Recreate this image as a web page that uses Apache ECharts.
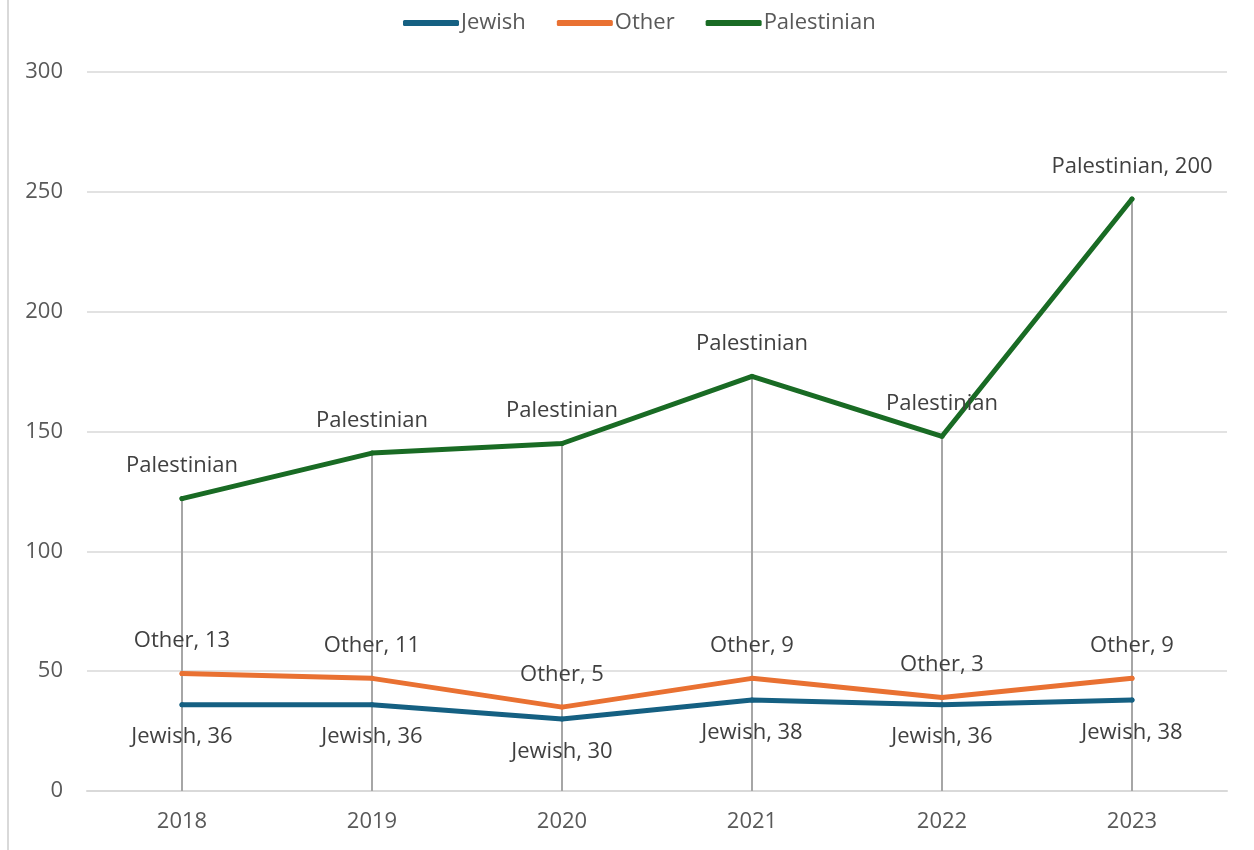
<!DOCTYPE html>
<html>
<head>
<meta charset="utf-8">
<script src="https://cdn.jsdelivr.net/npm/echarts@6/dist/echarts.min.js"></script>
<style>
html,body{margin:0;padding:0;background:#fff;}
#chart{width:1254px;height:850px;}
</style>
</head>
<body>
<div id="chart"></div>
<script>
const years = ['2018', '2019', '2020', '2021', '2022', '2023'];
const jewish = [36, 36, 30, 38, 36, 38];
const other = [13, 11, 5, 9, 3, 9];
const palestinian = [73, 94, 110, 126, 109, 200];
const yTicks = [0, 50, 100, 150, 200, 250, 300];

const totals = years.map((y, i) => jewish[i] + other[i] + palestinian[i]);
const font = 'Open Sans, Lato, sans-serif';

const chart = echarts.init(document.getElementById('chart'));

function lbl(name, pos, showValueFn) {
  return {
    show: true,
    position: pos,
    distance: 19,
    fontFamily: font,
    fontSize: 22,
    color: '#404040',
    formatter: p => showValueFn(p) ? name + ', ' + p.value : name
  };
}

const colors = { Jewish: '#156082', Other: '#E97132', Palestinian: '#196B24' };

chart.setOption({
  animation: false,
  graphic: [{
    type: 'rect',
    shape: { x: 7, y: 0, width: 2, height: 850 },
    style: { fill: '#d9d9d9' },
    silent: true
  }],
  legend: {
    top: 7,
    left: 398,
    itemWidth: 56,
    itemHeight: 6,
    itemGap: 31,
    icon: 'roundRect',
    textStyle: { fontFamily: font, fontSize: 22, color: '#595959', padding: [0, 0, 0, -3] },
    data: ['Jewish', 'Other', 'Palestinian']
  },
  grid: { left: 87, right: 27, top: 72, bottom: 59 },
  xAxis: {
    type: 'category',
    data: years,
    boundaryGap: true,
    axisLine: { lineStyle: { color: '#d9d9d9', width: 2 } },
    axisTick: { show: false },
    axisLabel: { fontFamily: font, fontSize: 22, color: '#595959', margin: 20 }
  },
  yAxis: {
    type: 'value',
    min: yTicks[0],
    max: yTicks[yTicks.length - 1],
    interval: yTicks[1] - yTicks[0],
    axisLine: { show: false },
    axisTick: { show: false },
    splitLine: { lineStyle: { color: '#d9d9d9', width: 1.5 } },
    axisLabel: { fontFamily: font, fontSize: 22, color: '#595959', margin: 24 }
  },
  series: ['Jewish', 'Other', 'Palestinian'].map((name, k) => {
    const data = [jewish, other, palestinian][k];
    const s = {
      name: name,
      type: 'line',
      stack: 'total',
      data: data,
      symbol: 'circle',
      symbolSize: 5,
      color: colors[name],
      lineStyle: { width: 5, cap: 'round', join: 'round' },
      label: name === 'Jewish' ? lbl('Jewish', 'bottom', () => true)
           : name === 'Other' ? lbl('Other', 'top', () => true)
           : lbl('Palestinian', 'top', p => p.dataIndex === years.length - 1),
      z: 3
    };
    if (name === 'Palestinian') {
      s.markLine = {
        silent: true,
        symbol: ['none', 'none'],
        label: { show: false },
        lineStyle: { color: '#a6a6a6', width: 2, type: 'solid' },
        z: 2,
        data: years.map((y, i) => [{ coord: [y, 0] }, { coord: [y, totals[i]] }])
      };
    }
    return s;
  })
});
</script>
</body>
</html>
